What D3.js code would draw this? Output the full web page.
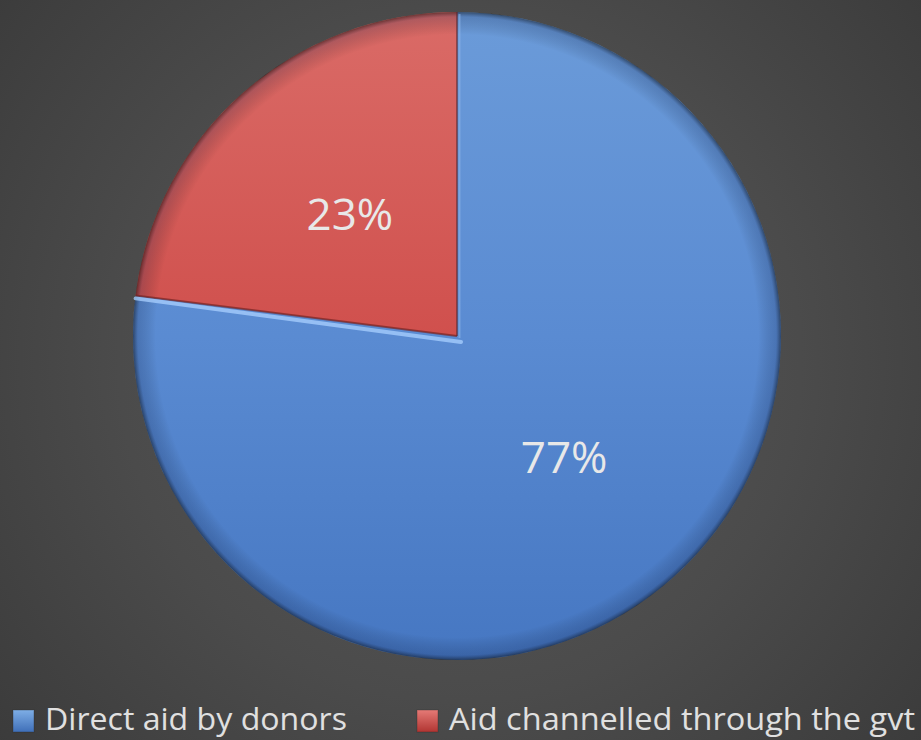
<!DOCTYPE html>
<html>
<head>
<meta charset="utf-8">
<script src="https://cdn.jsdelivr.net/npm/d3@7"></script>
<style>
  html, body { margin: 0; padding: 0; background: #404040; }
  svg { display: block; }
</style>
</head>
<body>
<svg id="chart" width="921" height="740"></svg>
<script>
// Share of aid by delivery channel
const categories = ["Direct aid by donors", "Aid channelled through the gvt"];
const values = [77, 23];
const valueLabels = ["77%", "23%"];

const W = 921, H = 740;
const cx = 457, cy = 336, R = 324;

const palette = {
  "Direct aid by donors": { top: "#6b9bd9", mid: "#5a8bd2", bottom: "#4677c2", legend: ["#7eaee6", "#3f6fb8"] },
  "Aid channelled through the gvt": { top: "#da6b67", mid: "#d0504d", bottom: "#bf3f3c", legend: ["#e57a76", "#b13532"] }
};

const svg = d3.select("#chart");
const defs = svg.append("defs");

// background: soft radial glow behind the pie
const bg = defs.append("radialGradient").attr("id", "bg")
  .attr("gradientUnits", "userSpaceOnUse")
  .attr("cx", 460).attr("cy", 360).attr("r", 620);
bg.append("stop").attr("offset", "0").attr("stop-color", "#5a5a5a");
bg.append("stop").attr("offset", "0.55").attr("stop-color", "#4b4b4b");
bg.append("stop").attr("offset", "1").attr("stop-color", "#3a3a3a");
svg.append("rect").attr("width", W).attr("height", H).attr("fill", "url(#bg)");

// vertical fill gradients per slice, plus legend swatch gradients
categories.forEach((c, i) => {
  const g = defs.append("linearGradient").attr("id", "fill" + i)
    .attr("gradientUnits", "userSpaceOnUse")
    .attr("x1", 0).attr("y1", cy - R).attr("x2", 0).attr("y2", cy + R);
  g.append("stop").attr("offset", "0").attr("stop-color", palette[c].top);
  g.append("stop").attr("offset", "0.5").attr("stop-color", palette[c].mid);
  g.append("stop").attr("offset", "1").attr("stop-color", palette[c].bottom);
  const lg = defs.append("linearGradient").attr("id", "leg" + i)
    .attr("x1", 0).attr("y1", 0).attr("x2", 0).attr("y2", 1);
  lg.append("stop").attr("offset", "0").attr("stop-color", palette[c].legend[0]);
  lg.append("stop").attr("offset", "1").attr("stop-color", palette[c].legend[1]);
});

// darkening toward the rim for a bevelled look
const rim = defs.append("radialGradient").attr("id", "rim")
  .attr("gradientUnits", "userSpaceOnUse")
  .attr("cx", cx).attr("cy", cy).attr("r", R);
rim.append("stop").attr("offset", "0.93").attr("stop-color", "#000").attr("stop-opacity", 0);
rim.append("stop").attr("offset", "0.985").attr("stop-color", "#0a1a40").attr("stop-opacity", 0.2);
rim.append("stop").attr("offset", "1").attr("stop-color", "#000").attr("stop-opacity", 0.5);

const pie = d3.pie().sort(null).value(d => d.value);
const data = pie(categories.map((c, i) => ({ cat: c, value: values[i], label: valueLabels[i], idx: i })));
const arc = d3.arc().innerRadius(0).outerRadius(R);

// slices are drawn in page coordinates so the userSpace gradients line up
const pg = svg.append("g");
pg.selectAll("path.slice").data(data).join("path")
  .attr("class", "slice")
  .attr("d", d => {
    const p = d3.path();
    const a0 = d.startAngle - Math.PI / 2, a1 = d.endAngle - Math.PI / 2;
    p.moveTo(cx, cy);
    p.lineTo(cx + R * Math.cos(a0), cy + R * Math.sin(a0));
    p.arc(cx, cy, R, a0, a1, false);
    p.closePath();
    return p.toString();
  })
  .attr("fill", d => `url(#fill${d.data.idx})`);

// rim shading over the whole disc
pg.append("circle").attr("cx", cx).attr("cy", cy).attr("r", R).attr("fill", "url(#rim)");

// radial edges: dark seam on the red side, light bevel on the blue side
const redSlice = data[1];
const ang = redSlice.startAngle - Math.PI / 2;
const ex = cx + R * Math.cos(ang), ey = cy + R * Math.sin(ang);
pg.append("line").attr("x1", cx).attr("y1", cy).attr("x2", ex).attr("y2", ey)
  .attr("stroke", "#7a2422").attr("stroke-width", 2).attr("stroke-opacity", 0.7);
pg.append("line").attr("x1", cx + 4).attr("y1", cy + 6).attr("x2", ex).attr("y2", ey + 3)
  .attr("stroke", "#a9d0ff").attr("stroke-width", 4).attr("stroke-opacity", 0.75)
  .attr("stroke-linecap", "round");
pg.append("line").attr("x1", cx).attr("y1", cy).attr("x2", cx).attr("y2", cy - R)
  .attr("stroke", "#5b2b36").attr("stroke-width", 2).attr("stroke-opacity", 0.6);
pg.append("line").attr("x1", cx + 2.5).attr("y1", cy + 2).attr("x2", cx + 2.5).attr("y2", cy - R + 2)
  .attr("stroke", "#8cb6ea").attr("stroke-width", 2).attr("stroke-opacity", 0.6);

// value labels at slice centroids
pg.selectAll("text.val").data(data).join("text")
  .attr("class", "val")
  .attr("x", d => cx + arc.centroid(d)[0])
  .attr("y", d => cy + arc.centroid(d)[1])
  .attr("dy", "0.35em")
  .attr("text-anchor", "middle")
  .attr("font-family", "'Open Sans', 'DejaVu Sans', sans-serif")
  .attr("font-size", 44)
  .attr("fill", "#e8e8e8")
  .text(d => d.data.label);

// legend
const legendX = [13, 417];
const legendW = [302, 466];
const leg = svg.append("g");
categories.forEach((c, i) => {
  leg.append("rect").attr("x", legendX[i]).attr("y", 710).attr("width", 21).attr("height", 22)
    .attr("fill", `url(#leg${i})`).attr("stroke", "#2a2a2a").attr("stroke-opacity", 0.35);
  leg.append("text").attr("x", legendX[i] + 32).attr("y", 730)
    .attr("font-family", "'Open Sans', 'DejaVu Sans', sans-serif")
    .attr("font-size", 31)
    .attr("fill", "#e0e0e0")
    .attr("textLength", legendW[i])
    .attr("lengthAdjust", "spacingAndGlyphs")
    .text(c);
});
</script>
</body>
</html>
